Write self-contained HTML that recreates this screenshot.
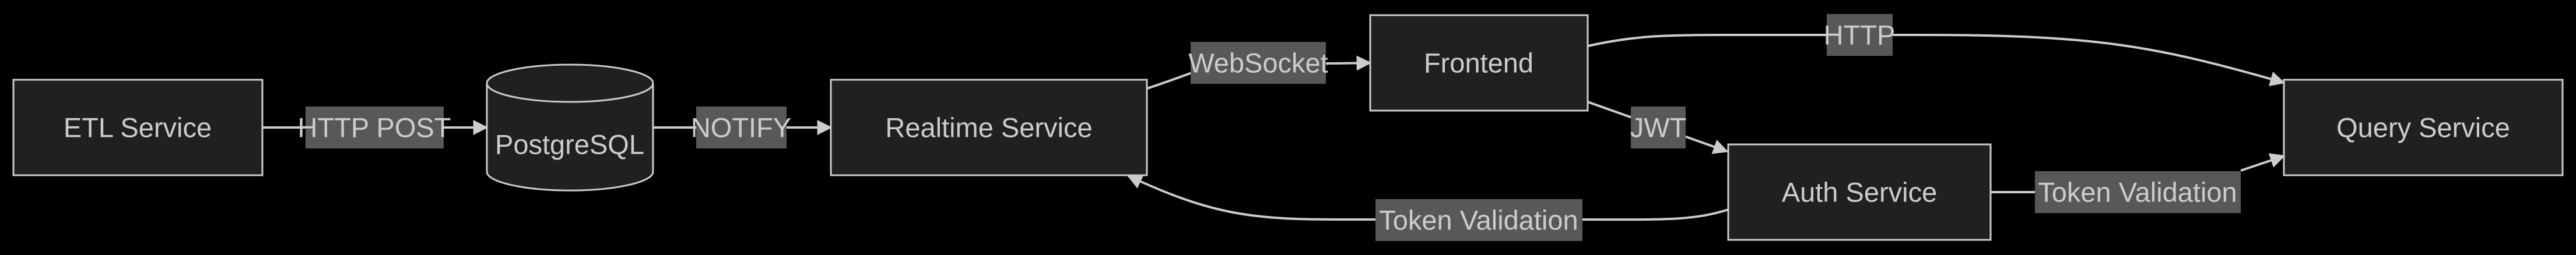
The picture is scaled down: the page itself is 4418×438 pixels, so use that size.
<!DOCTYPE html>
<html><head><style>
html,body{margin:0;padding:0;background:#000;width:4418px;height:438px;overflow:hidden}
text{font-family:"Liberation Sans",sans-serif;fill:#ccc;font-size:47px;text-anchor:middle;dominant-baseline:central}
</style></head><body>
<svg width="4418" height="438" viewBox="0 0 4418 438" xmlns="http://www.w3.org/2000/svg">
<defs>
<marker id="b" viewBox="0 0 10 10" refX="9" refY="5" markerWidth="26" markerHeight="26" orient="auto" markerUnits="userSpaceOnUse"><path d="M0,0L10,5L0,10z" fill="#ccc"/></marker></defs>
<g fill="none" stroke="#ccc" stroke-width="4">
<path d="M450,219 L835,219" marker-end="url(#b)"/>
<path d="M1120,219 L1425,219" marker-end="url(#b)"/>
<path d="M1967,152 C2010,138 2040,126 2080,112 L2350,108" marker-end="url(#b)"/>
<path d="M2723,79 C2800,62 2850,60 2950,60 L3300,60 C3600,60 3700,80 3917,142" marker-end="url(#b)"/>
<path d="M2723,175 L2962,260" marker-end="url(#b)"/>
<path d="M2964,360 C2900,380 2850,377 2700,377 L2300,377 C2150,377 2080,370 1935,302" marker-end="url(#b)"/>
<path d="M3414,330 L3490,330 M3843,293 L3917,268" marker-end="url(#b)"/>
</g>
<g fill="#1f2020" stroke="#ccc" stroke-width="3">
<rect x="23" y="137" width="427" height="164"/>
<rect x="1425" y="137" width="542" height="164"/>
<rect x="2350" y="26" width="373" height="164"/>
<rect x="3917" y="137" width="478" height="164"/>
<rect x="2964" y="248" width="450" height="164"/>
<path d="M835,143 L835,295 A142,32 0 0 0 1120,295 L1120,143"/>
<ellipse cx="977.5" cy="143" rx="142.5" ry="32"/>
</g>
<g fill="#585858">
<rect x="524" y="183" width="237" height="72"/>
<rect x="1194" y="183" width="155" height="72"/>
<rect x="2042" y="72" width="232" height="72"/>
<rect x="3133" y="24" width="113" height="72"/>
<rect x="2797" y="183" width="94" height="72"/>
<rect x="3490" y="294" width="353" height="72"/>
<rect x="2359" y="342" width="355" height="72"/>
</g>
<text x="236" y="219">ETL Service</text>
<text x="977" y="248">PostgreSQL</text>
<text x="1696" y="219">Realtime Service</text>
<text x="2536" y="108">Frontend</text>
<text x="4156" y="219">Query Service</text>
<text x="3189" y="330">Auth Service</text>
<text x="642" y="219">HTTP POST</text>
<text x="1271" y="219">NOTIFY</text>
<text x="2158" y="108">WebSocket</text>
<text x="3189" y="60">HTTP</text>
<text x="2844" y="219">JWT</text>
<text x="3666" y="330">Token Validation</text>
<text x="2536" y="378">Token Validation</text>
</svg>
</body></html>
